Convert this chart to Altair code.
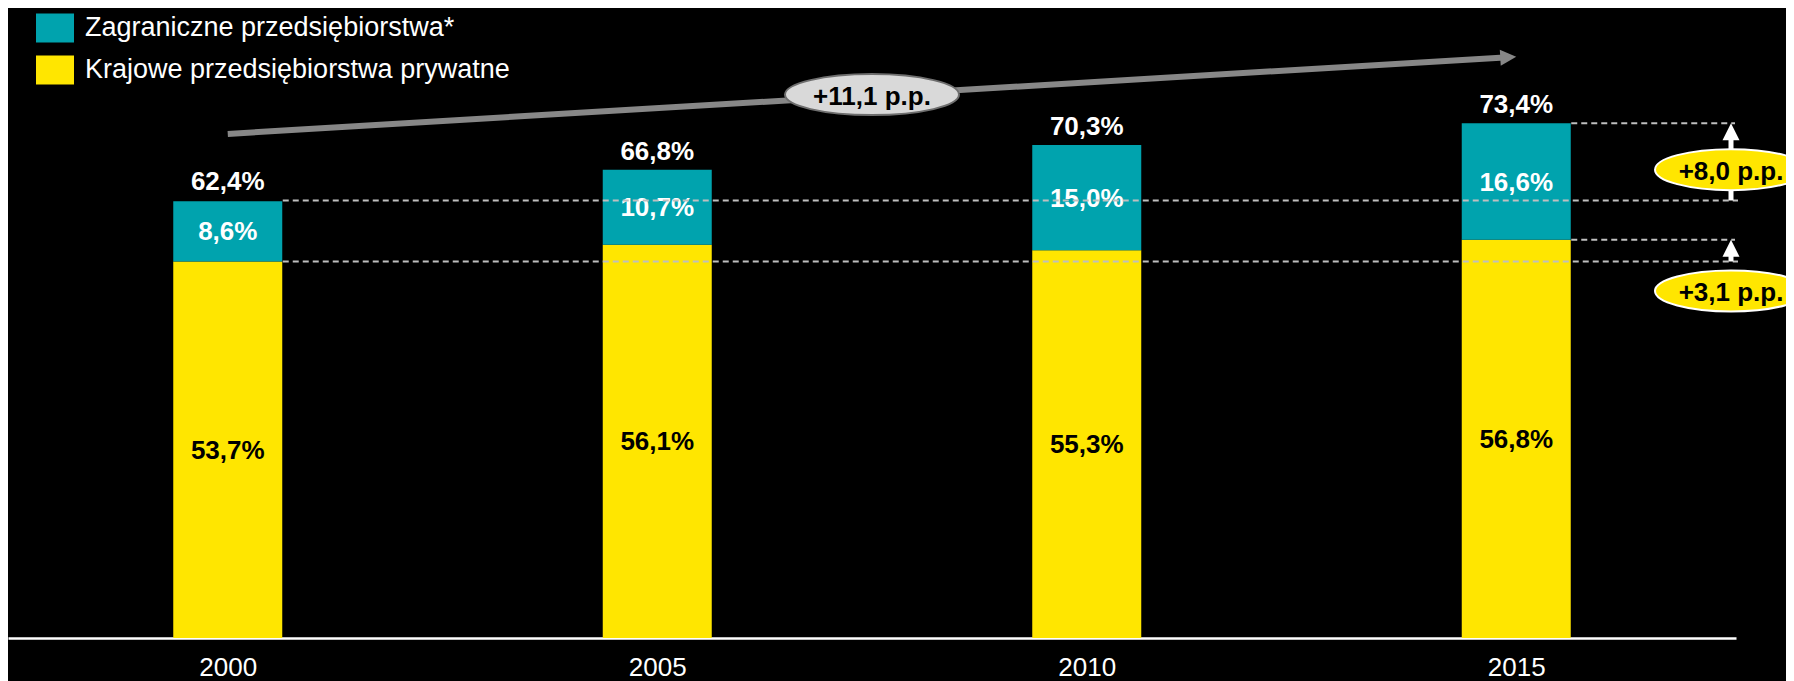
import altair as alt
import pandas as pd

# ---- data ----
years = [2000, 2005, 2010, 2015]
krajowe = [53.7, 56.1, 55.3, 56.8]          # Krajowe przedsiębiorstwa prywatne
zagraniczne = [8.6, 10.7, 15.0, 16.6]       # Zagraniczne przedsiębiorstwa*
totals = [62.4, 66.8, 70.3, 73.4]
series = ["Zagraniczne przedsiębiorstwa*", "Krajowe przedsiębiorstwa prywatne"]
colors = ["#00A3AE", "#FFE600"]

growth_labels = ["+11,1 p.p.", "+8,0 p.p.", "+3,1 p.p."]
trend_start = [2000, 71.9]      # grey trend arrow (year, %)
trend_end = [2015, 82.9]
bubble_total = [2007.5, 77.5]
bubble_right_y = [66.8, 49.5]
x_right = 2017.5

FONT = "Liberation Sans"


def pl(v):
    return f"{v:.1f}%".replace(".", ",")


rows = []
for yr, k, z in zip(years, krajowe, zagraniczne):
    rows.append(dict(year=yr, series=series[1], y0=0.0, y1=k, mid=k / 2,
                     label=pl(k), tcolor="#000000"))
    rows.append(dict(year=yr, series=series[0], y0=k, y1=k + z, mid=k + z / 2,
                     label=pl(z), tcolor="#FFFFFF"))
bars_df = pd.DataFrame(rows)
tot_df = pd.DataFrame(dict(year=years, total=totals, label=[pl(t) for t in totals]))

xscale = alt.Scale(domain=[1997.5, 2017.5], nice=False, zero=False)
yscale = alt.Scale(domain=[0, 88], nice=False, zero=True)

X = alt.X("year:Q", scale=xscale,
          axis=alt.Axis(values=years, format="d", title=None, grid=False,
                        ticks=False, labelFont=FONT, labelFontSize=26,
                        labelColor="#FFFFFF", domainColor="#FFFFFF",
                        domainWidth=2.5, labelPadding=16, labelFlush=False))

rect_path = "M-1,-0.763L1,-0.763L1,0.763L-1,0.763Z"

bars = alt.Chart(bars_df).mark_bar(size=109).encode(
    x=X,
    y=alt.Y("y0:Q", scale=yscale, axis=None),
    y2="y1:Q",
    color=alt.Color("series:N",
                    scale=alt.Scale(domain=series, range=colors),
                    legend=alt.Legend(title=None, orient="none", legendX=28, legendY=-12,
                                      symbolType=rect_path, symbolSize=1444,
                                      symbolStrokeWidth=0, symbolOpacity=1,
                                      labelFont=FONT, labelFontSize=27,
                                      labelColor="#FFFFFF", labelOffset=11,
                                      rowPadding=8, padding=0, labelLimit=800)),
)

seg_labels = alt.Chart(bars_df).mark_text(
    font=FONT, fontSize=26, fontWeight="bold", baseline="middle", dy=1
).encode(
    x=alt.X("year:Q", scale=xscale),
    y=alt.Y("mid:Q", scale=yscale),
    text="label:N",
    color=alt.Color("tcolor:N", scale=None),
)

tot_labels = alt.Chart(tot_df).mark_text(
    font=FONT, fontSize=26, fontWeight="bold", baseline="alphabetic", dy=-10,
    color="#FFFFFF"
).encode(
    x=alt.X("year:Q", scale=xscale),
    y=alt.Y("total:Q", scale=yscale),
    text="label:N",
)

# dashed reference lines
long_df = pd.DataFrame(dict(x=[years[0]] * 2, x2=[x_right] * 2,
                            y=[totals[0], krajowe[0]]))
short_df = pd.DataFrame(dict(x=[years[-1]] * 2, x2=[x_right] * 2,
                             y=[totals[-1], krajowe[-1]]))
dash_long = alt.Chart(long_df).mark_rule(
    color="#BFBFBF", strokeWidth=2, strokeDash=[6, 4], xOffset=55, x2Offset=7
).encode(x=alt.X("x:Q", scale=xscale), x2="x2:Q", y=alt.Y("y:Q", scale=yscale))
dash_short = alt.Chart(short_df).mark_rule(
    color="#BFBFBF", strokeWidth=2, strokeDash=[6, 4], xOffset=55, x2Offset=4
).encode(x=alt.X("x:Q", scale=xscale), x2="x2:Q", y=alt.Y("y:Q", scale=yscale))

# white vertical arrows on the right
arr_df = pd.DataFrame(dict(x=[x_right] * 2, lo=[totals[0], krajowe[0]],
                           hi=[totals[-1], krajowe[-1]]))
arr_shaft = alt.Chart(arr_df).mark_rule(
    color="#FFFFFF", strokeWidth=5, y2Offset=14
).encode(x=alt.X("x:Q", scale=xscale), y=alt.Y("lo:Q", scale=yscale), y2="hi:Q")
up_tri = "M0,-1L1,1L-1,1Z"
arr_head = alt.Chart(arr_df).mark_point(
    shape=up_tri, size=289, filled=True, opacity=1, color="#FFFFFF", yOffset=8.5
).encode(x=alt.X("x:Q", scale=xscale), y=alt.Y("hi:Q", scale=yscale))


def ellipse_path(ratio):
    k = 0.5523
    r = ratio
    return (f"M-1,0C-1,{-k*r:.4f} {-k:.4f},{-r:.4f} 0,{-r:.4f}"
            f"C{k:.4f},{-r:.4f} 1,{-k*r:.4f} 1,0"
            f"C1,{k*r:.4f} {k:.4f},{r:.4f} 0,{r:.4f}"
            f"C{-k:.4f},{r:.4f} -1,{k*r:.4f} -1,0Z")


# yellow bubbles on the right
yb_df = pd.DataFrame(dict(x=[x_right] * 2, y=bubble_right_y, label=growth_labels[1:]))
yb = alt.Chart(yb_df).mark_point(
    shape=ellipse_path(41 / 152), size=152 ** 2, filled=True, opacity=1,
    fill="#FFE600", stroke="#FFFFFF", strokeWidth=2
).encode(x=alt.X("x:Q", scale=xscale), y=alt.Y("y:Q", scale=yscale))
yb_text = alt.Chart(yb_df).mark_text(
    font=FONT, fontSize=26, fontWeight="bold", baseline="middle", dy=2, color="#000000"
).encode(x=alt.X("x:Q", scale=xscale), y=alt.Y("y:Q", scale=yscale), text="label:N")

# grey trend arrow
tr_df = pd.DataFrame(dict(x=[trend_start[0]], y=[trend_start[1]],
                          x2=[trend_end[0]], y2=[trend_end[1]]))
tr_shaft = alt.Chart(tr_df).mark_rule(
    color="#878787", strokeWidth=6, x2Offset=-12, y2Offset=0.7
).encode(x=alt.X("x:Q", scale=xscale), y=alt.Y("y:Q", scale=yscale),
         x2="x2:Q", y2="y2:Q")
tr_head = alt.Chart(tr_df).mark_point(
    shape="M-1,-1L1,0L-1,1Z", size=256, filled=True, opacity=1, color="#878787",
    xOffset=-8, yOffset=0.5, angle=356.6
).encode(x=alt.X("x2:Q", scale=xscale), y=alt.Y("y2:Q", scale=yscale))

gb_df = pd.DataFrame(dict(x=[bubble_total[0]], y=[bubble_total[1]], label=[growth_labels[0]]))
gb = alt.Chart(gb_df).mark_point(
    shape=ellipse_path(41 / 174), size=174 ** 2, filled=True, opacity=1,
    fill="#D9D9D9", stroke="#6E6E6E", strokeWidth=2
).encode(x=alt.X("x:Q", scale=xscale), y=alt.Y("y:Q", scale=yscale))
gb_text = alt.Chart(gb_df).mark_text(
    font=FONT, fontSize=26, fontWeight="bold", baseline="middle", dy=2, color="#000000"
).encode(x=alt.X("x:Q", scale=xscale), y=alt.Y("y:Q", scale=yscale), text="label:N")

chart = alt.layer(
    bars, seg_labels, tot_labels, dash_long, dash_short,
    arr_shaft, arr_head, yb, yb_text, tr_shaft, tr_head, gb, gb_text
).properties(
    width=1728, height=617,
    padding={"left": 0, "top": 13, "right": 50, "bottom": 43},
    autosize=alt.AutoSizeParams(type="none"),
).configure(
    background="#000000"
).configure_view(
    strokeWidth=0
)

chart.save("out.html", embed_options={"renderer": "svg", "actions": False})
